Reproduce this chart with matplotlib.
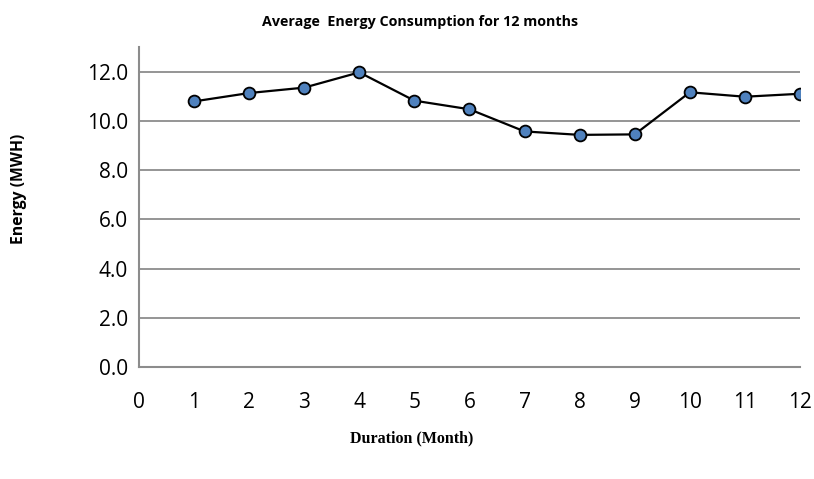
import matplotlib
matplotlib.use("Agg")
import matplotlib.pyplot as plt

months = [1, 2, 3, 4, 5, 6, 7, 8, 9, 10, 11, 12]
energy = [10.79, 11.13, 11.35, 11.97, 10.82, 10.47, 9.57, 9.43, 9.45, 11.16, 10.98, 11.10]
x_ticks = list(range(0, 13))
y_ticks = [0, 2, 4, 6, 8, 10, 12]

fig = plt.figure(figsize=(8.14, 4.79), dpi=100)
ax = fig.add_axes([139 / 814, 1 - 367 / 479, 661 / 814, 320 / 479])

ax.plot(months, energy, color="black", linewidth=1.6, marker="o",
        markersize=8.5, markerfacecolor="#4F81BD", markeredgecolor="black",
        markeredgewidth=1.3, zorder=3)

ax.set_xlim(0, 12)
ax.set_ylim(0, 13)
ax.set_xticks(x_ticks)
ax.set_yticks(y_ticks)
ax.set_yticklabels([f"{v:.1f}" for v in y_ticks])

for v in y_ticks[1:]:
    ax.axhline(v, color="#8c8c8c", linewidth=1.3, zorder=1)

for side in ("top", "right"):
    ax.spines[side].set_visible(False)
for side in ("left", "bottom"):
    ax.spines[side].set_color("#8c8c8c")
    ax.spines[side].set_linewidth(1.5)

ax.tick_params(axis="both", length=0, labelsize=15, labelcolor="black")
ax.tick_params(axis="y", pad=8)
ax.tick_params(axis="x", pad=18)
for lbl in ax.get_xticklabels() + ax.get_yticklabels():
    lbl.set_family("Open Sans")

fig.text(420 / 814, 1 - 22 / 479, "Average  Energy Consumption for 12 months",
         ha="center", va="center", fontsize=10.3, fontweight="bold",
         family="Open Sans")
fig.text(19 / 814, 1 - 189 / 479, "Energy (MWH)", ha="center", va="center",
         rotation=90, fontsize=11.3, fontweight="bold", family="Open Sans")
fig.text(412 / 814, 1 - 438 / 479, "Duration (Month)", ha="center", va="center",
         fontsize=11.5, fontweight="bold", family="Liberation Serif")

fig.savefig("out.png", dpi=100)
